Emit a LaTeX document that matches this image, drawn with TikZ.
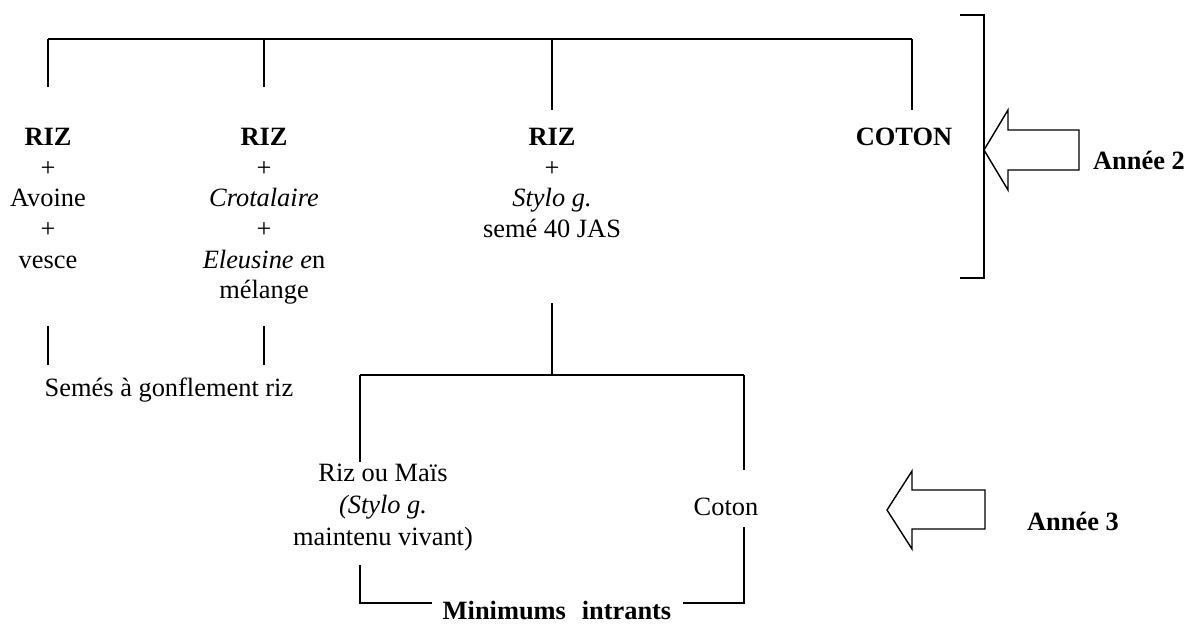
\documentclass[tikz,border=0pt]{standalone}
\usepackage{fontspec}
\setmainfont{Liberation Serif}
\newcommand{\mytopstrut}{\rule{0pt}{22pt}}
\begin{document}
\begin{tikzpicture}[x=1pt,y=-1pt,
  line width=1.5pt,
  link/.style={draw=black,line width=1.5pt},
  coltext/.style={anchor=north,inner sep=0pt,align=center,font=\fontsize{26.4}{30.6}\selectfont},
  lowtext/.style={anchor=north,inner sep=0pt,align=center,font=\fontsize{26.4}{32}\selectfont},
  plain/.style={anchor=base,inner sep=0pt,font=\fontsize{26.4}{30}\selectfont},
  bigarrow/.style={draw=black,line width=1.4pt,fill=white,line join=miter}]
\useasboundingbox (0,0) rectangle (1194,625);

% top row of columns
\node[coltext] (c1) at (48,123) {\mytopstrut\textbf{RIZ}\\+\\Avoine\\+\\vesce};
\node[coltext] (c2) at (264,123) {\mytopstrut\textbf{RIZ}\\+\\\textit{Crotalaire}\\+\\\textit{Eleusine e}n\\mélange};
\node[coltext] (c3) at (552,123) {\mytopstrut\textbf{RIZ}\\+\\\textit{Stylo g.}\\semé 40 JAS};
\node[coltext] (c4) at (904,123) {\mytopstrut\textbf{COTON}};

% top bus
\coordinate (b1) at (48,39);
\coordinate (b2) at (264,39);
\coordinate (b3) at (552,39);
\coordinate (b4) at (912,39);
\coordinate (e1) at (48,87);
\coordinate (e2) at (264,87);
\coordinate (e3) at (552,110);
\coordinate (e4) at (912,110);
\draw[link] (b1) -- (b4);
\draw[link] (b1) -- (e1);
\draw[link] (b2) -- (e2);
\draw[link] (b3) -- (e3);
\draw[link] (b4) -- (e4);

% semes a gonflement
\node[plain] (sg) at (169,396) {Semés à gonflement riz};
\coordinate (s1a) at (48,326);
\coordinate (s1b) at (48,365);
\coordinate (s2a) at (264,326);
\coordinate (s2b) at (264,365);
\draw[link] (s1a) -- (s1b);
\draw[link] (s2a) -- (s2b);

% lower tree
\coordinate (st) at (552,303);
\coordinate (sj) at (552,375);
\coordinate (lb) at (360,375);
\coordinate (rb) at (744,375);
\coordinate (le) at (360,462);
\coordinate (re) at (744,470);
\draw[link] (st) -- (sj);
\draw[link] (lb) -- (rb);
\draw[link] (lb) -- (le);
\draw[link] (rb) -- (re);

\node[lowtext] (rm) at (383,459) {\mytopstrut Riz ou Maïs\\\textit{(Stylo g.}\\maintenu vivant)};
\node[plain] (co) at (726,515) {Coton};

% minimums intrants
\node[plain] (mi) at (557,619) {\textbf{Minimums\hspace{0.6em}intrants}};
\coordinate (m1) at (360,565);
\coordinate (m2) at (360,603);
\coordinate (m3) at (432,603);
\coordinate (m4) at (683,603);
\coordinate (m5) at (744,603);
\coordinate (m6) at (744,527);
\draw[link] (m1) -- (m2) -- (m3);
\draw[link] (m4) -- (m5) -- (m6);

% right bracket year 2
\coordinate (k1) at (960,15);
\coordinate (k2) at (984,15);
\coordinate (k3) at (984,278);
\coordinate (k4) at (960,278);
\draw[link] (k1) -- (k2) -- (k3) -- (k4);

% arrow year 2
\draw[bigarrow] (984,150) -- (1008,110) -- (1008,130) -- (1079,130) -- (1079,170) -- (1008,170) -- (1008,190) -- cycle;
\node[plain] (a2) at (1139,169) {\textbf{Année 2}};

% arrow year 3
\draw[bigarrow] (887,510) -- (912,471) -- (912,490) -- (985,490) -- (985,529) -- (912,529) -- (912,549) -- cycle;
\node[plain] (a3) at (1073,530) {\textbf{Année 3}};
\end{tikzpicture}
\end{document}
